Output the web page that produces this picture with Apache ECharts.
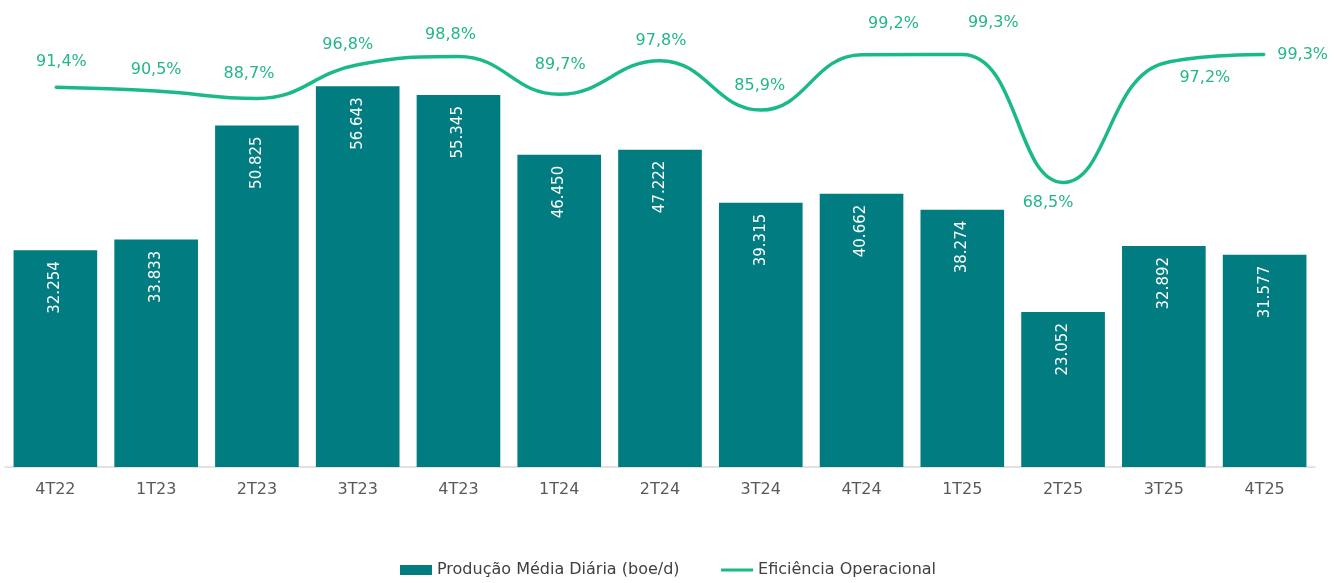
<!DOCTYPE html>
<html><head><meta charset="utf-8">
<script src="https://cdn.jsdelivr.net/npm/echarts@6/dist/echarts.min.js"></script>
<style>html,body{margin:0;padding:0;background:#fff}#c{width:1336px;height:583px}</style>
</head><body><div id="c"></div>
<script>
const categories = ['4T22','1T23','2T23','3T23','4T23','1T24','2T24','3T24','4T24','1T25','2T25','3T25','4T25'];
const producao = [32.254, 33.833, 50.825, 56.643, 55.345, 46.450, 47.222, 39.315, 40.662, 38.274, 23.052, 32.892, 31.577];
const eficiencia = [91.4, 90.5, 88.7, 96.8, 98.8, 89.7, 97.8, 85.9, 99.2, 99.3, 68.5, 97.2, 99.3];
const seriesNames = ['Produção Média Diária (boe/d)', 'Eficiência Operacional'];

// label centre relative to each line point, in px (style only)
const lineLabelShift = [
  [6,-25],[0,-21],[-8,-25],[-10,-20],[-8,-22],[1,-29],[1,-20],
  [-1,-24],[32,-31],[31,-32],[-15,20],[41,15],[38,0]
];

const FONT = 'DejaVu Sans';
const fmtPct = v => v.toFixed(1).replace('.', ',') + '%';
const fmtNum = v => v.toFixed(3);

const chart = echarts.init(document.getElementById('c'), null, {renderer:'canvas'});
chart.setOption({
  animation: false,
  textStyle: {fontFamily: FONT},
  grid: {left: 5, right: 21, top: 10, bottom: 116, containLabel: false},
  legend: {
    bottom: 0, left: 'center', itemGap: 40,
    textStyle: {fontFamily: FONT, fontSize: 16, color: '#404040'},
    data: [
      {name: seriesNames[0], icon: 'rect', itemStyle:{color:'#017C80'}},
      {name: seriesNames[1], itemStyle:{opacity:0}, lineStyle:{color:'#1BB98A', width:3}}
    ],
    itemWidth: 32, itemHeight: 10
  },
  xAxis: {
    type: 'category', data: categories,
    axisLine: {lineStyle: {color: '#d9d9d9', width: 1.5}},
    axisTick: {show: false},
    axisLabel: {color: '#595959', fontSize: 16, margin: 15, fontFamily: FONT}
  },
  yAxis: [
    {type: 'value', min: 0, max: 68, show: false, splitLine: {show: false}},
    {type: 'value', min: 0, max: 110, show: false, splitLine: {show: false}}
  ],
  series: [
    {
      name: seriesNames[0], type: 'bar', yAxisIndex: 0,
      data: producao, barCategoryGap: '17%',
      itemStyle: {color: '#017C80'},
      label: {
        show: true, position: 'insideTop', rotate: 90, align: 'right', verticalAlign: 'middle',
        distance: 11, color: '#ffffff', fontSize: 15, fontFamily: FONT,
        formatter: p => fmtNum(p.value)
      }
    },
    {
      name: seriesNames[1], type: 'line', yAxisIndex: 1, smooth: 0.45,
      symbol: 'circle', symbolSize: 2, showSymbol: true, showAllSymbol: true, clip: false,
      lineStyle: {color: '#1BB98A', width: 3.5},
      itemStyle: {color: '#1BB98A'},
      labelLayout: {hideOverlap: false},
      data: eficiencia.map((v, i) => ({
        value: v,
        label: {show: true, position: [lineLabelShift[i][0] + 1, lineLabelShift[i][1] + 1],
                align: 'center', verticalAlign: 'middle'}
      })),
      label: {
        show: true, color: '#22B68A', fontSize: 16, fontFamily: FONT,
        formatter: p => fmtPct(p.value)
      }
    }
  ]
});
</script></body></html>
